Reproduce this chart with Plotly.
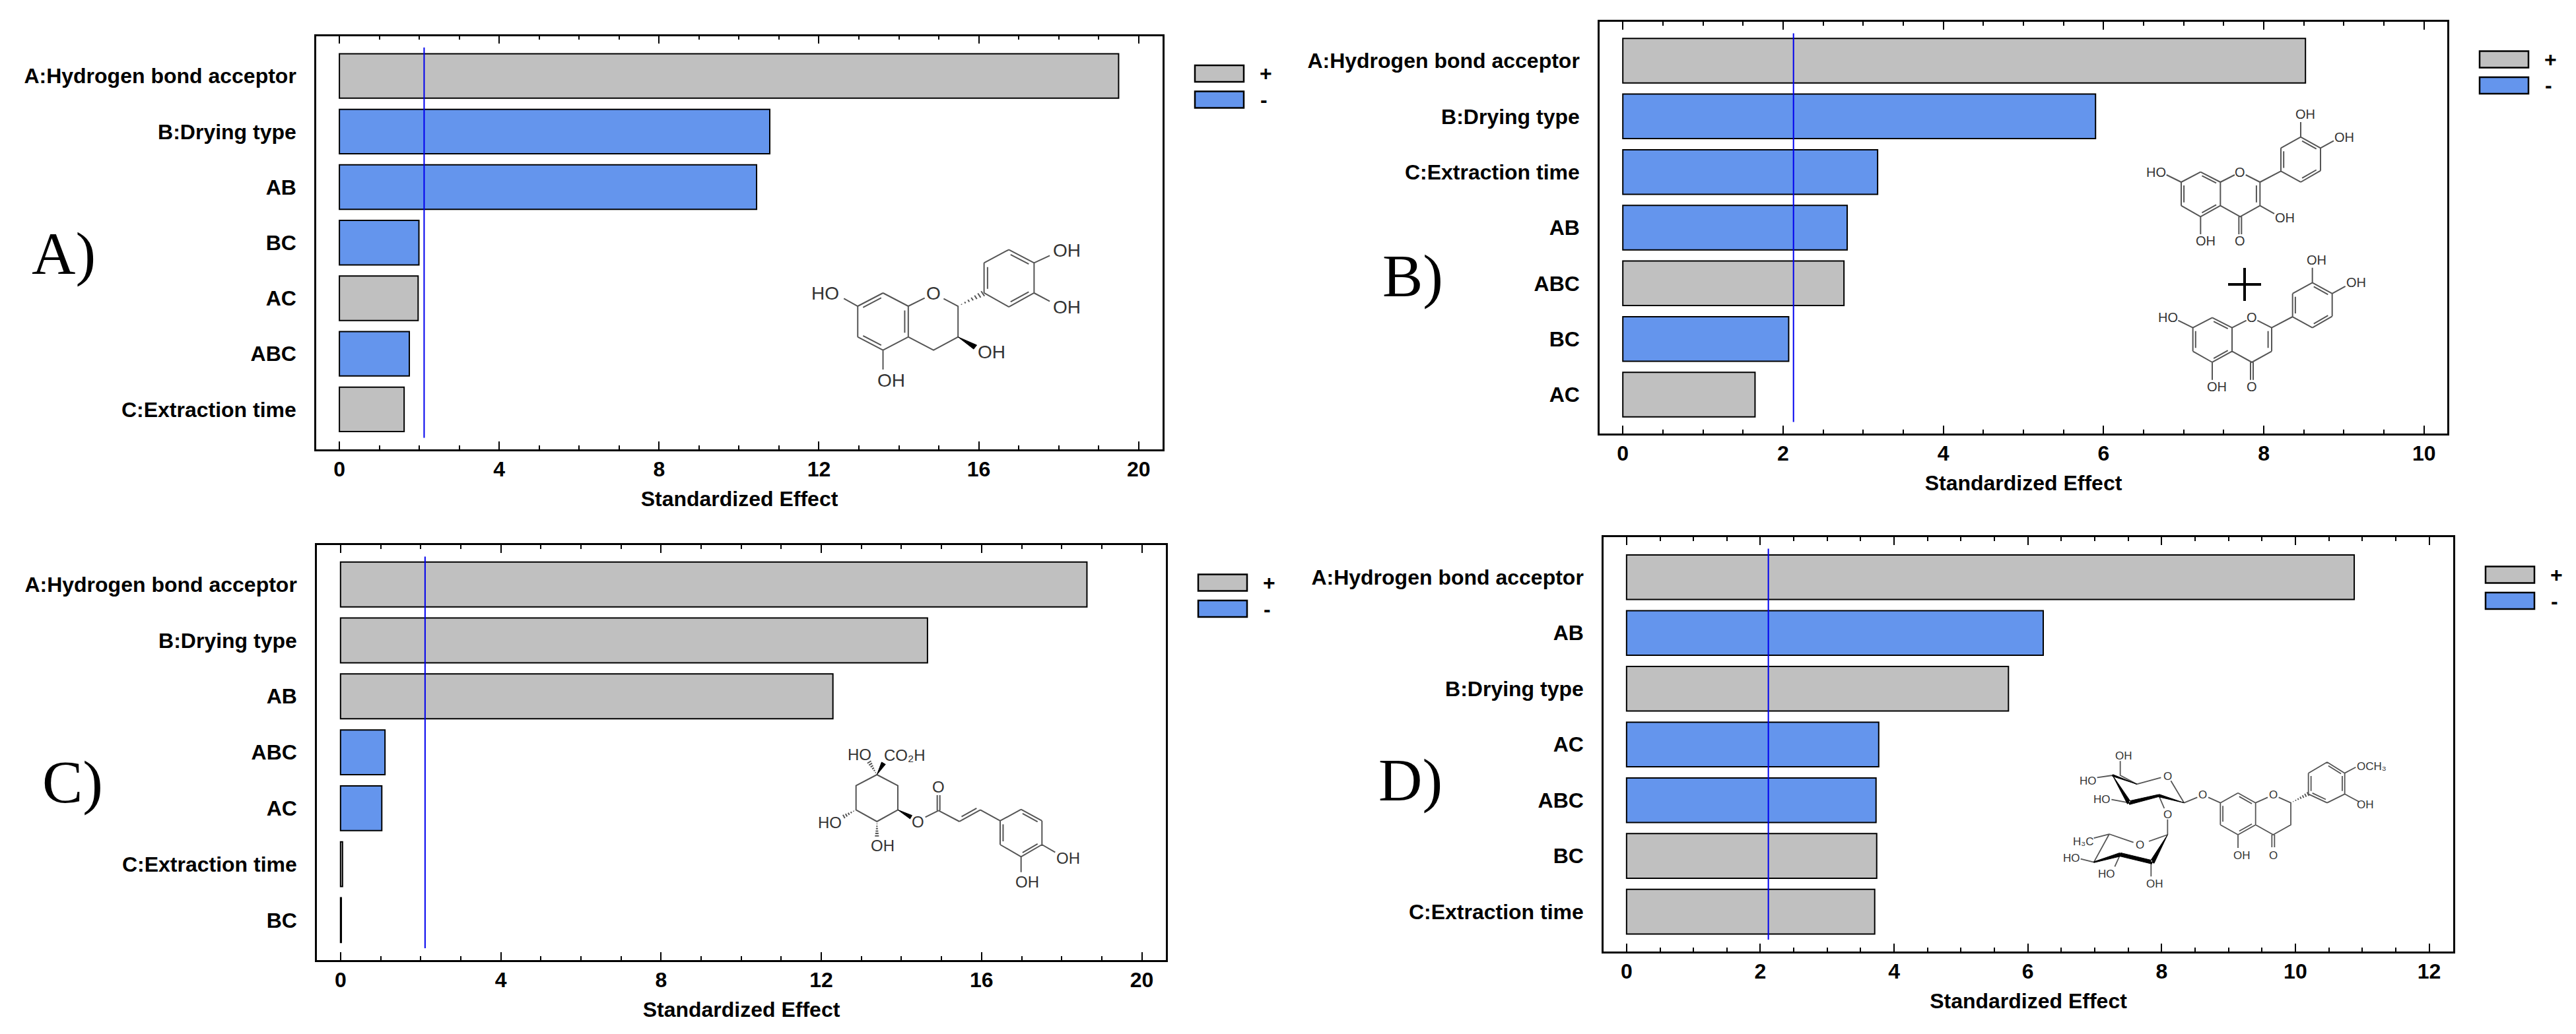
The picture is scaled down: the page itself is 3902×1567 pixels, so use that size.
import plotly.graph_objects as go

# ---------- data ----------
a_terms = ["A:Hydrogen bond acceptor", "B:Drying type", "AB", "BC", "AC", "ABC", "C:Extraction time"]
a_effects = [19.5, 10.77, 10.44, 1.99, 1.97, 1.75, 1.62]
a_signs = ["+", "-", "-", "-", "+", "-", "+"]
b_terms = ["A:Hydrogen bond acceptor", "B:Drying type", "C:Extraction time", "AB", "ABC", "BC", "AC"]
b_effects = [8.52, 5.90, 3.18, 2.80, 2.76, 2.07, 1.65]
b_signs = ["+", "-", "-", "-", "+", "-", "+"]
c_terms = ["A:Hydrogen bond acceptor", "B:Drying type", "AB", "ABC", "AC", "C:Extraction time", "BC"]
c_effects = [18.63, 14.65, 12.29, 1.11, 1.03, 0.05, 0.02]
c_signs = ["+", "+", "+", "-", "-", "+", "+"]
d_terms = ["A:Hydrogen bond acceptor", "AB", "B:Drying type", "AC", "ABC", "BC", "C:Extraction time"]
d_effects = [10.88, 6.23, 5.71, 3.77, 3.73, 3.74, 3.71]
d_signs = ["+", "-", "+", "-", "-", "+", "+"]
critical = {"A": 2.12, "B": 2.13, "C": 2.11, "D": 2.12}

W, H = 3902, 1567
GREY, BLUE, BOND = "#C0C0C0", "#6495ED", "#555555"
SANS = "Liberation Sans"
def fx(x): return x / W
def fy(y): return 1 - y / H

panels = [
    dict(k="A", terms=a_terms, vals=a_effects, signs=a_signs, box=(479, 1761, 54.5, 681), xr=(-0.58, 20.6), yr=(6.72, -0.72), major=4, minor=1, lab=(96, 384)),
    dict(k="B", terms=b_terms, vals=b_effects, signs=b_signs, box=(2423, 3707, 33, 657), xr=(-0.29, 10.29), yr=(6.70, -0.70), major=2, minor=0.5, lab=(2140, 418)),
    dict(k="C", terms=c_terms, vals=c_effects, signs=c_signs, box=(480, 1766, 826, 1454.5), xr=(-0.59, 20.6), yr=(6.71, -0.705), major=4, minor=1, lab=(110, 1185)),
    dict(k="D", terms=d_terms, vals=d_effects, signs=d_signs, box=(2429, 3716, 814, 1441.6), xr=(-0.344, 12.36), yr=(6.71, -0.72), major=2, minor=0.5, lab=(2136, 1182)),
]

fig = go.Figure()
shapes, annots = [], []
layout = {}
def note(text, x, y, font):
    annots.append(dict(text=text, x=fx(x), y=fy(y), xref="paper", yref="paper", showarrow=False, borderpad=0,
                       xanchor="center", yanchor="middle", font=font))

for i, p in enumerate(panels):
    sfx = "" if i == 0 else str(i + 1)
    l, r, t, b = p["box"]
    xa, ya = "x" + sfx, "y" + sfx
    for sign, col in (("+", GREY), ("-", BLUE)):
        xs = [v if s == sign else None for v, s in zip(p["vals"], p["signs"])]
        fig.add_trace(go.Bar(x=xs, y=p["terms"], orientation="h", width=0.8, name=sign, showlegend=False,
                             marker=dict(color=col, line=dict(color="black", width=2)), xaxis=xa, yaxis=ya))
    layout["xaxis" + sfx] = dict(
        domain=[fx(l), fx(r)], range=list(p["xr"]), anchor=ya, showgrid=False, zeroline=False,
        showline=True, linecolor="black", linewidth=2.5, mirror="allticks",
        ticks="inside", ticklen=12, tickwidth=1.5, tickcolor="black", tick0=0, dtick=p["major"],
        minor=dict(ticks="inside", ticklen=6, tickwidth=1.5, tickcolor="black", dtick=p["minor"], tick0=0, showgrid=False),
        tickfont=dict(family=SANS, size=32, color="black", weight="bold"),
        title=dict(text="<b>Standardized Effect</b>", font=dict(family=SANS, size=32, color="black"), standoff=17),
    )
    layout["yaxis" + sfx] = dict(
        domain=[fy(b), fy(t)], range=list(p["yr"]), anchor=xa, type="category",
        categoryorder="array", categoryarray=p["terms"], showgrid=False, zeroline=False,
        showline=True, linecolor="black", linewidth=2.5, mirror=True, ticks="", ticklabelstandoff=21,
        tickfont=dict(family=SANS, size=32, color="black", weight="bold"),
    )
    shapes.append(dict(type="line", xref=xa, yref=ya + " domain", x0=critical[p["k"]], x1=critical[p["k"]],
                       y0=0.028, y1=0.972, line=dict(color="#0000EE", width=2), layer="above"))
    # legend keys
    for sign, col, dy, tx in (("+", GREY, 44.5, 156), ("-", BLUE, 84, 153)):
        shapes.append(dict(type="rect", xref="paper", yref="paper", x0=fx(r + 49), x1=fx(r + 123),
                           y0=fy(t + dy), y1=fy(t + dy + 25), fillcolor=col, line=dict(color="black", width=2.5)))
        note("<b>%s</b>" % sign, r + tx, t + dy + 12.5, dict(family=SANS, size=32, color="black"))
    # panel letters
    note(p["k"] + ")", p["lab"][0], p["lab"][1], dict(family="Liberation Serif", size=92, color="black"))


# ---------- molecule drawings (pixel geometry helpers) ----------
class Mol:
    def __init__(self, ox, oy, sx, sy, fs):
        self.ox, self.oy, self.sx, self.sy, self.fs = ox, oy, sx, sy, fs
        self.d, self.f = [], []
    def P(self, p):
        return p[0] / self.sx + self.ox, p[1] / self.sy + self.oy
    def S(self, p):
        x, y = self.P(p)
        return "%.5f %.5f" % (fx(x), fy(y))
    def line(self, *pts):
        self.d.append("M " + " L ".join(self.S(p) for p in pts))
    def dbl(self, p, q, c, off=0.14, trim=0.14):
        self.line(p, q)
        mx, my = (p[0] + q[0]) / 2, (p[1] + q[1]) / 2
        ax, ay = (c[0] - mx) * off, (c[1] - my) * off
        a = (p[0] + (q[0] - p[0]) * trim + ax, p[1] + (q[1] - p[1]) * trim + ay)
        b = (q[0] + (p[0] - q[0]) * trim + ax, q[1] + (p[1] - q[1]) * trim + ay)
        self.line(a, b)
    def wedge(self, p, q, w1=0, w2=22):
        dx, dy = q[0] - p[0], q[1] - p[1]
        n = (dx * dx + dy * dy) ** 0.5
        ux, uy = -dy / n, dx / n
        pts = [(p[0] + ux * w1 / 2, p[1] + uy * w1 / 2), (q[0] + ux * w2 / 2, q[1] + uy * w2 / 2),
               (q[0] - ux * w2 / 2, q[1] - uy * w2 / 2), (p[0] - ux * w1 / 2, p[1] - uy * w1 / 2)]
        self.f.append("M " + " L ".join(self.S(a) for a in pts) + " Z")
    def hash(self, p, q, n=6, w=22):
        dx, dy = q[0] - p[0], q[1] - p[1]
        L = (dx * dx + dy * dy) ** 0.5
        ux, uy = -dy / L, dx / L
        for i in range(1, n + 1):
            t = i / n
            cx, cy = p[0] + dx * t, p[1] + dy * t
            h = w * t / 2
            self.line((cx - ux * h, cy - uy * h), (cx + ux * h, cy + uy * h))
    def text(self, s, p, size=None):
        x, y = self.P(p)
        note(s, x, y, dict(family=SANS, size=size or self.fs, color="#333333"))
    def finish(self, lw=2):
        shapes.append(dict(type="path", xref="paper", yref="paper", path=" ".join(self.d), line=dict(color=BOND, width=lw)))
        if self.f:
            shapes.append(dict(type="path", xref="paper", yref="paper", path=" ".join(self.f), fillcolor="black", line=dict(color="black", width=1)))


# Panel A: catechin
m = Mol(1150, 300, 2.613, 3, 28)
c = (490, 562)
m.dbl((390, 492), (490, 432), c); m.line((490, 432), (590, 492)); m.dbl((590, 492), (590, 632), c)
m.line((590, 632), (490, 692)); m.dbl((490, 692), (390, 632), c); m.line((390, 632), (390, 492))
m.line((590, 492), (655, 455)); m.line((730, 458), (787, 492), (787, 632), (690, 692), (590, 632))
c = (988, 365)
m.dbl((890, 432), (890, 295), c); m.line((890, 295), (988, 235)); m.dbl((988, 235), (1088, 295), c)
m.line((1088, 295), (1088, 432)); m.dbl((1088, 432), (988, 495), c); m.line((988, 495), (890, 432))
m.line((1088, 295), (1150, 262)); m.line((1088, 432), (1150, 470)); m.line((390, 492), (335, 457)); m.line((490, 692), (490, 780))
m.hash((787, 492), (885, 435), n=7, w=26); m.wedge((787, 632), (855, 678))
for s, q in (("OH", (1218, 238)), ("OH", (1218, 498)), ("O", (690, 435)), ("HO", (262, 435)), ("OH", (920, 700)), ("OH", (522, 830))):
    m.text(s, q)
m.finish()


# Panel B: two flavonoids
def flavone(m, dx, dy, ohc3):
    T = lambda x, y: (x + dx, y + dy)
    c = T(400, 222)
    m.dbl(T(312, 168), T(312, 275), c); m.line(T(312, 168), T(400, 122)); m.dbl(T(400, 122), T(490, 168), c)
    m.dbl(T(490, 275), T(400, 325), c); m.line(T(490, 168), T(490, 275)); m.line(T(400, 325), T(312, 275))
    m.line(T(490, 168), T(555, 135)); m.line(T(605, 135), T(670, 168))
    m.dbl(T(670, 168), T(670, 275), T(580, 222), off=0.18)
    m.line(T(670, 275), T(580, 325), T(490, 275))
    m.line(T(574, 325), T(574, 405)); m.line(T(586, 325), T(586, 405))
    m.line(T(400, 325), T(400, 405)); m.line(T(245, 135), T(312, 168)); m.line(T(670, 168), T(765, 118))
    c = T(855, 65)
    m.dbl(T(765, 118), T(765, 13), c); m.line(T(765, 13), T(855, -37)); m.dbl(T(855, -37), T(945, 13), c)
    m.line(T(945, 13), T(945, 116)); m.dbl(T(945, 116), T(855, 168), c); m.line(T(855, 168), T(765, 118))
    m.line(T(855, -37), T(855, -105)); m.line(T(945, 13), T(1005, -20))
    for s, q in (("O", (580, 122)), ("O", (580, 435)), ("HO", (198, 122)), ("OH", (422, 435)), ("OH", (875, -140)), ("OH", (1054, -37))):
        m.text(s, T(*q))
    if ohc3:
        m.line(T(670, 275), T(735, 312)); m.text("OH", T(782, 330))

m = Mol(3200, 220, 3, 3, 20)
flavone(m, 0, 0, True)
flavone(m, 53, 662, False)
m.finish()
# the "plus" between the two structures is a drawn cross
shapes.append(dict(type="line", xref="paper", yref="paper", x0=fx(3375), x1=fx(3425), y0=fy(431), y1=fy(431), line=dict(color="black", width=4)))
shapes.append(dict(type="line", xref="paper", yref="paper", x0=fx(3400), x1=fx(3400), y0=fy(406), y1=fy(456), line=dict(color="black", width=4)))

# Panel C: chlorogenic acid
m = Mol(1200, 1100, 3, 3, 24)
m.line((385, 222), (290, 272), (290, 382), (385, 435), (480, 382), (480, 272), (385, 222))
m.wedge((385, 222), (415, 170), w2=20); m.hash((385, 222), (350, 165), n=6, w=20)
m.hash((290, 382), (235, 412), n=5, w=18); m.hash((385, 435), (385, 500), n=6, w=18); m.wedge((480, 382), (540, 415), w2=18)
m.line((605, 415), (665, 385))
m.line((659, 385), (659, 315)); m.line((671, 385), (671, 315))
m.line((665, 385), (760, 435)); m.dbl((760, 435), (855, 382), (790, 340), off=0.22); m.line((855, 382), (945, 432))
c = (1040, 488)
m.dbl((945, 432), (945, 540), c); m.line((945, 540), (1040, 595)); m.dbl((1040, 595), (1135, 540), c)
m.line((1135, 540), (1135, 432)); m.dbl((1135, 432), (1040, 380), c); m.line((1040, 380), (945, 432))
m.line((1135, 540), (1195, 575)); m.line((1040, 595), (1040, 665))
for s, q in (("HO", (305, 130)), ("CO\u2082H", (512, 132)), ("HO", (170, 438)), ("OH", (412, 545)), ("O", (572, 437)),
             ("O", (665, 278)), ("OH", (1255, 600)), ("OH", (1067, 708))):
    m.text(s, q)
m.finish()

# Panel D: hesperidin
m = Mol(3080, 1060, 3, 3, 17)
m.line((470, 385), (580, 355)); m.line((625, 370), (685, 470))
m.wedge((685, 470), (570, 437), w1=0, w2=12); m.wedge((570, 437), (435, 470), w1=10, w2=16)
m.wedge((360, 345), (435, 470), w1=0, w2=18); m.wedge((470, 385), (360, 345), w1=0, w2=8)
m.line((395, 280), (395, 345), (470, 385)); m.line((290, 355), (360, 345)); m.line((355, 455), (435, 470))
m.line((570, 437), (595, 495)); m.line((610, 545), (610, 615)); m.line((610, 615), (525, 645)); m.line((455, 650), (345, 612))
m.wedge((610, 615), (540, 740), w1=0, w2=20); m.wedge((275, 740), (395, 705), w1=4, w2=16); m.wedge((395, 705), (540, 740), w1=16, w2=16)
m.line((345, 612), (275, 740)); m.line((275, 630), (345, 612)); m.line((215, 725), (275, 740)); m.line((395, 705), (370, 760)); m.line((535, 745), (535, 805))
m.line((685, 470), (745, 445)); m.line((795, 445), (850, 470))
c = (930, 520)
m.dbl((850, 470), (850, 570), c); m.line((850, 470), (930, 425)); m.dbl((930, 425), (1010, 470), c)
m.line((1010, 470), (1010, 570)); m.dbl((1010, 570), (930, 615), c); m.line((930, 615), (850, 570))
m.line((1010, 470), (1065, 445)); m.line((1115, 445), (1170, 470), (1170, 570), (1090, 615), (1010, 570))
m.line((1084, 615), (1084, 672)); m.line((1096, 615), (1096, 672)); m.line((930, 615), (930, 675))
m.hash((1170, 470), (1248, 430), n=7, w=18)
c = (1335, 378)
m.dbl((1250, 430), (1250, 335), c); m.line((1250, 335), (1335, 285)); m.dbl((1335, 285), (1415, 335), c)
m.dbl((1415, 335), (1415, 430), c); m.line((1415, 430), (1335, 470)); m.dbl((1335, 470), (1250, 430), c)
m.line((1415, 335), (1465, 308)); m.line((1415, 430), (1480, 465))
for s, q in (("OH", (412, 255)), ("O", (610, 350)), ("HO", (250, 370)), ("HO", (312, 455)), ("O", (610, 522)), ("O", (485, 660)),
             ("H\u2083C", (225, 645)), ("HO", (175, 720)), ("HO", (333, 792)), ("OH", (552, 838)), ("O", (768, 432)),
             ("O", (1090, 432)), ("O", (1090, 710)), ("OH", (947, 708)), ("OCH\u2083", (1536, 303)), ("OH", (1509, 477))):
    m.text(s, q)
m.finish(lw=1.8)

fig.update_layout(width=W, height=H, margin=dict(l=0, r=0, t=0, b=0), autosize=False, barmode="overlay",
                  plot_bgcolor="white", paper_bgcolor="white", shapes=shapes, annotations=annots, showlegend=False, **layout)
fig.write_html("out.html", config=dict(displayModeBar=False),
               post_script="document.body.style.margin='0';document.body.style.overflow='hidden';")
